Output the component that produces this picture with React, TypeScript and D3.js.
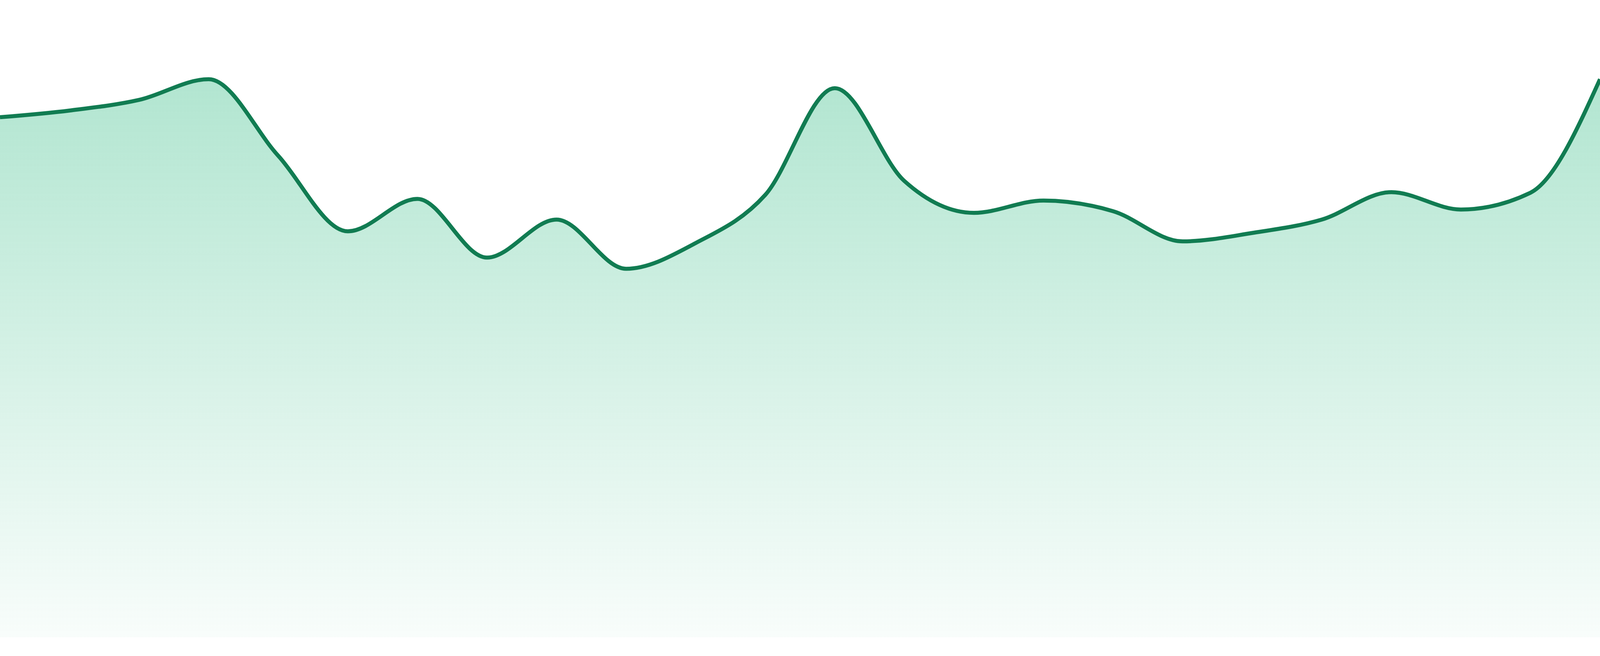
import React, { FC, useEffect, useMemo, useState } from "react";
import * as d3 from "d3";

// one value per step
const values = [
    93.0, 94.2, 96.1, 99.8, 86.1, 72.6, 78.4, 67.9, 74.7, 65.9, 70.5, 79.1,
    98.2, 81.6, 75.9, 78.1, 76.2, 70.8, 72.3, 74.7, 79.6, 76.5, 79.5, 99.8,
];
const steps = values.map((_, i) => i);
const yDomain = [0, 100];

const lineColor = "#117c52";
const fillColor = "#22b67a";

const width = 4800;
const height = 1680;

// fill the whole viewport, whatever its css size turns out to be
const defaultStyle: any = {
    position: "fixed",
    top: 0,
    left: 0,
    width: "100vw",
    height: "100vh",
    display: "block",
};

export const AreaSpark: FC<any> = () => {
    const [vw, setVw] = useState(
        typeof window !== "undefined" ? window.innerWidth : width
    );

    useEffect(() => {
        const onResize = () => setVw(window.innerWidth);
        window.addEventListener("resize", onResize);
        return () => window.removeEventListener("resize", onResize);
    }, []);

    const x = useMemo(
        () =>
            d3
                .scaleLinear()
                .domain([0, steps.length - 1])
                .range([0, width]),
        []
    );

    const y = useMemo(
        () => d3.scaleLinear().domain(yDomain).range([1632, 200]),
        []
    );

    const area = d3
        .area<number>()
        .x((d) => x(d))
        .y0(y(0))
        .y1((d) => y(values[d]))
        .curve(d3.curveMonotoneX);

    const line = d3
        .line<number>()
        .x((d) => x(d))
        .y((d) => y(values[d]))
        .curve(d3.curveMonotoneX);

    // 12px at full 4800 width, kept even if the svg gets stretched
    const stroke = (12 * vw) / width;

    return (
        <svg
            viewBox={`0 0 ${width} ${height}`}
            preserveAspectRatio="none"
            style={defaultStyle}
        >
            <defs>
                <linearGradient id="areaFill" x1="0" y1="0" x2="0" y2="1">
                    <stop offset="0%" stopColor={fillColor} stopOpacity={0.35} />
                    <stop offset="100%" stopColor={fillColor} stopOpacity={0.03} />
                </linearGradient>
            </defs>
            <path d={area(steps) as string} fill="url(#areaFill)" />
            <path
                d={line(steps) as string}
                fill="none"
                stroke={lineColor}
                strokeWidth={stroke}
                strokeLinejoin="round"
                vectorEffect="non-scaling-stroke"
            />
        </svg>
    );
};

export default function App() {
    return <AreaSpark />;
}
